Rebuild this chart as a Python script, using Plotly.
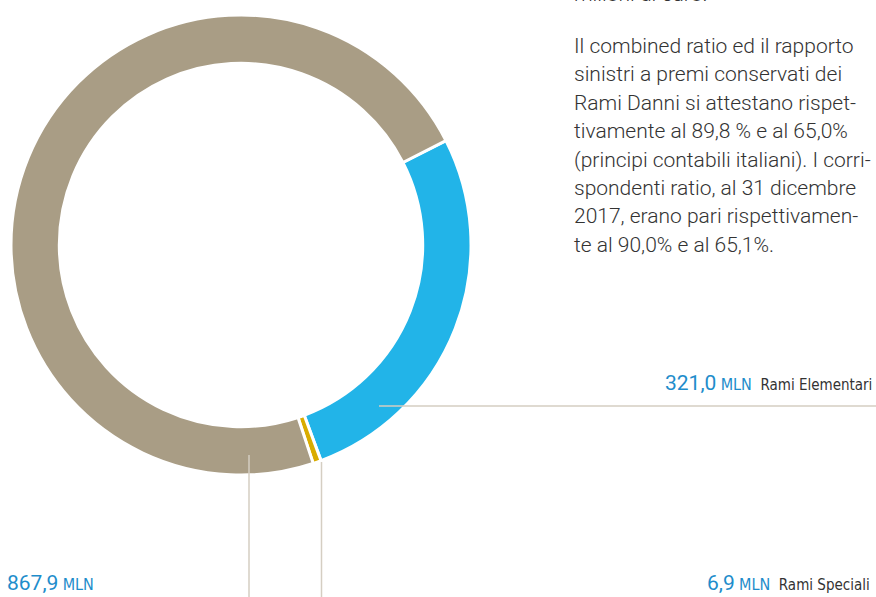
import plotly.graph_objects as go

W, H = 876, 597

categories = ["Rami Elementari", "Rami Speciali", "Altro"]
values = [321.0, 6.9, 867.9]
value_labels = ["321,0", "6,9", "867,9"]
slice_colors = ["#22B4E8", "#D9AC00", "#A99D85"]

body_lines = [
    "Il combined ratio ed il rapporto",
    "sinistri a premi conservati dei",
    "Rami Danni si attestano rispet-",
    "tivamente al 89,8 % e al 65,0%",
    "(principi contabili italiani). I corri-",
    "spondenti ratio, al 31 dicembre",
    "2017, erano pari rispettivamen-",
    "te al 90,0% e al 65,1%.",
]

BLUE = "#1E8DCB"
DARK = "#333333"
LINE = "#D5CEC2"
FONT = "Roboto"
NARROW = "Liberation Sans Narrow, DejaVu Sans Condensed, Roboto"


def px(x):
    return x / W


def py(y):
    return 1 - y / H


fig = go.Figure()
fig.add_trace(go.Pie(
    labels=categories,
    values=values,
    marker=dict(colors=slice_colors, line=dict(color="white", width=3)),
    hole=0.79,
    sort=False,
    direction="clockwise",
    rotation=63,
    textinfo="none",
    hoverinfo="label+value",
    showlegend=False,
    domain=dict(x=[px(11), px(471)], y=[py(475), py(15)]),
))

shapes = [
    dict(type="line", xref="paper", yref="paper", x0=px(379), x1=px(876), y0=py(406), y1=py(406),
         line=dict(color=LINE, width=1.5)),
    dict(type="line", xref="paper", yref="paper", x0=px(249), x1=px(249), y0=py(455), y1=py(597),
         line=dict(color=LINE, width=1.5)),
    dict(type="line", xref="paper", yref="paper", x0=px(321.5), x1=px(321.5), y0=py(462), y1=py(597),
         line=dict(color=LINE, width=1.5)),
]

annotations = []
# text cut off at the top edge
annotations.append(dict(xref="paper", yref="paper", x=px(572), y=py(-6), xanchor="left", yanchor="middle",
                        text="milioni di euro.", showarrow=False,
                        font=dict(family=FONT, size=21, color=DARK, weight=300)))
for i, line in enumerate(body_lines):
    annotations.append(dict(xref="paper", yref="paper", x=px(572), y=py(46 + i * 28.4),
                            xanchor="left", yanchor="middle", text=line, showarrow=False,
                            font=dict(family=FONT, size=21, color=DARK, weight=300)))


def lab(val, name):
    s = (f"<span style='font-size:21px;color:{BLUE};font-family:Roboto'>{val}</span> "
         f"<span style='font-size:16px;color:{BLUE}'>MLN</span>")
    if name:
        s += f"  <span style='font-size:15px;color:{DARK}'>{name}</span>"
    return s


annotations.append(dict(xref="paper", yref="paper", x=px(874), y=py(383), xanchor="right", yanchor="middle",
                        text=lab(value_labels[0], categories[0]), showarrow=False,
                        font=dict(family=NARROW, size=15, color=DARK)))
annotations.append(dict(xref="paper", yref="paper", x=px(5), y=py(583), xanchor="left", yanchor="middle",
                        text=lab(value_labels[2], ""), showarrow=False,
                        font=dict(family=NARROW, size=15, color=DARK)))
annotations.append(dict(xref="paper", yref="paper", x=px(872), y=py(583), xanchor="right", yanchor="middle",
                        text=lab(value_labels[1], categories[1]), showarrow=False,
                        font=dict(family=NARROW, size=15, color=DARK)))

fig.update_layout(
    width=W, height=H,
    margin=dict(l=0, r=0, t=0, b=0),
    paper_bgcolor="white", plot_bgcolor="white",
    shapes=shapes, annotations=annotations,
)

fig.write_html(
    "out.html",
    config={"displayModeBar": False},
    post_script="document.body.style.margin='0';document.body.style.overflow='hidden';",
)
